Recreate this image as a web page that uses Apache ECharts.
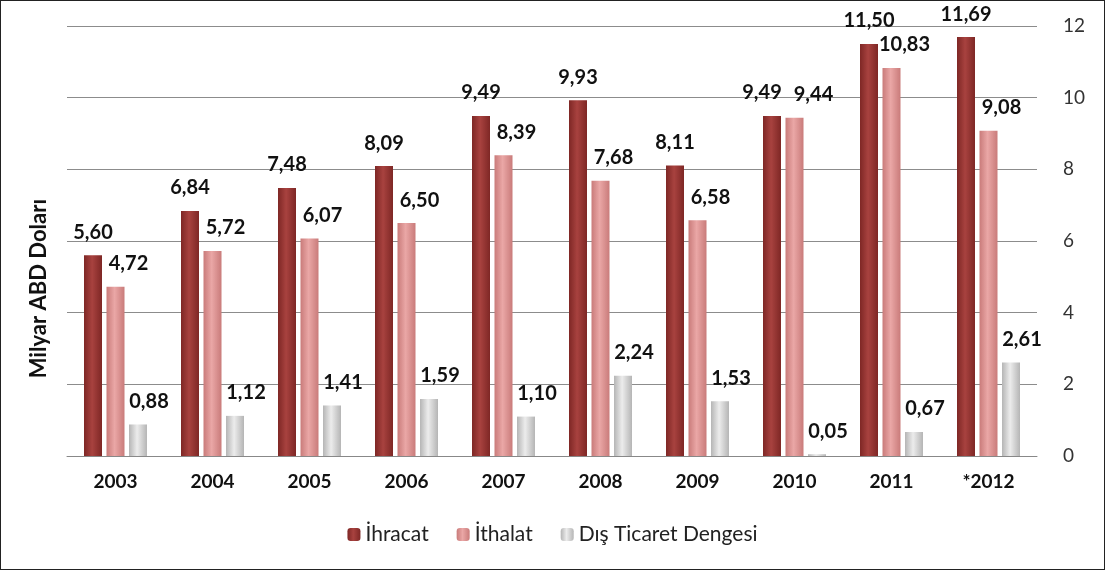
<!DOCTYPE html>
<html>
<head>
<meta charset="utf-8">
<script src="https://cdn.jsdelivr.net/npm/echarts@6/dist/echarts.min.js"></script>
<style>
html, body { margin: 0; padding: 0; background: #fff; }
#chart { width: 1103px; height: 568px; border: 1px solid #222; }
</style>
</head>
<body>
<div id="chart"></div>
<script>
// chart data
var years = ['2003', '2004', '2005', '2006', '2007', '2008', '2009', '2010', '2011', '*2012'];
var ihracat = [5.60, 6.84, 7.48, 8.09, 9.49, 9.93, 8.11, 9.49, 11.50, 11.69];
var ithalat = [4.72, 5.72, 6.07, 6.50, 8.39, 7.68, 6.58, 9.44, 10.83, 9.08];
var denge = [0.88, 1.12, 1.41, 1.59, 1.10, 2.24, 1.53, 0.05, 0.67, 2.61];
var seriesNames = ['İhracat', 'İthalat', 'Dış Ticaret Dengesi'];

var font = 'Lato, "Open Sans", sans-serif';

function grad(edge, mid) {
    return new echarts.graphic.LinearGradient(0, 0, 1, 0, [
        {offset: 0, color: edge},
        {offset: 0.45, color: mid},
        {offset: 1, color: edge}
    ]);
}

function fmt(p) {
    return p.value.toFixed(2).replace('.', ',');
}

function labelCfg(offset) {
    return {
        show: true,
        position: 'top',
        distance: 13,
        offset: offset,
        formatter: fmt,
        fontFamily: font,
        fontWeight: 'bold',
        fontSize: 20,
        color: '#111'
    };
}

// 2010 labels sit apart so they don't collide
function withShift(arr, idx, shift) {
    return arr.map(function (v, i) {
        return i === idx ? {value: v, label: {offset: shift}} : v;
    });
}

var chart = echarts.init(document.getElementById('chart'));
chart.setOption({
    animation: false,
    textStyle: {fontFamily: font},
    grid: {left: 66, right: 67, top: 25, bottom: 113},
    legend: {
        bottom: 19,
        left: 'center',
        itemWidth: 13,
        itemHeight: 13,
        itemGap: 28,
        textStyle: {fontSize: 21, color: '#222', fontFamily: font},
        data: seriesNames
    },
    graphic: [{
        type: 'text',
        left: 27,
        top: 198,
        rotation: Math.PI / 2,
        style: {
            text: 'Milyar ABD Doları',
            font: 'bold 22px ' + font,
            fill: '#111'
        }
    }],
    xAxis: {
        type: 'category',
        data: years,
        axisLine: {lineStyle: {color: '#888'}},
        axisTick: {show: false},
        axisLabel: {fontWeight: 'bold', fontSize: 19, color: '#111', margin: 16}
    },
    yAxis: {
        type: 'value',
        position: 'right',
        min: 0,
        max: 12,
        interval: 2,
        axisLine: {show: false},
        axisTick: {show: false},
        axisLabel: {fontSize: 19, color: '#333', margin: 26},
        splitLine: {lineStyle: {color: '#8c8c8c'}}
    },
    series: [{
        name: seriesNames[0],
        type: 'bar',
        data: withShift(ihracat, 7, [-10, 0]),
        barWidth: 18,
        barGap: '25%',
        itemStyle: {color: grad('#7e2725', '#a8423f')},
        label: labelCfg([0, 0])
    }, {
        name: seriesNames[1],
        type: 'bar',
        data: withShift(ithalat, 7, [19, 0]),
        barWidth: 18,
        barGap: '25%',
        itemStyle: {color: grad('#c97b7a', '#eaa7a6')},
        label: labelCfg([13, 0])
    }, {
        name: seriesNames[2],
        type: 'bar',
        data: denge,
        barWidth: 18,
        barGap: '25%',
        itemStyle: {color: grad('#b5b5b5', '#ececec')},
        label: labelCfg([11, 0])
    }]
});
</script>
</body>
</html>
